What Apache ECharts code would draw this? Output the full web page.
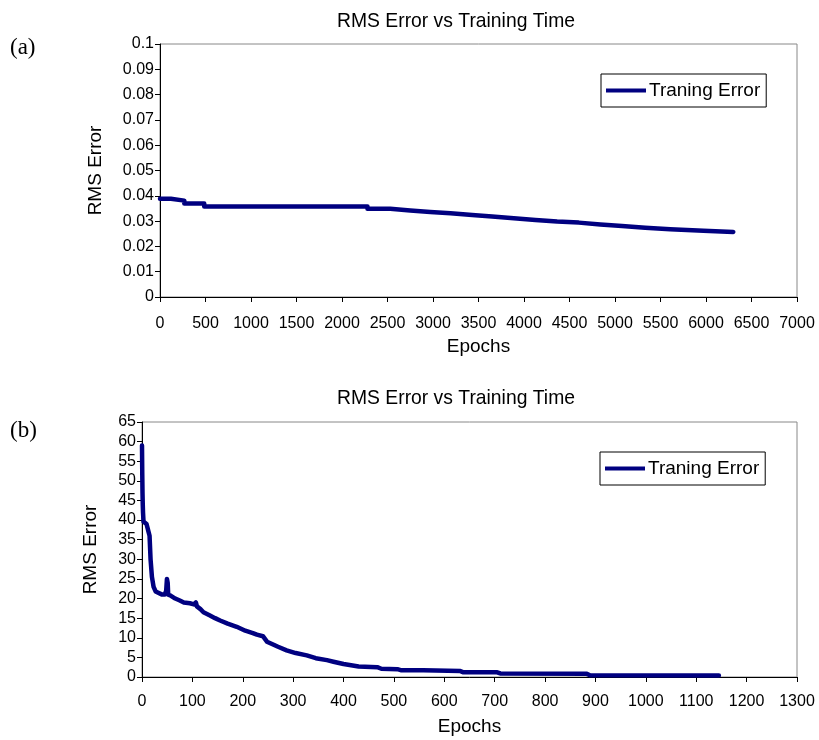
<!DOCTYPE html>
<html>
<head>
<meta charset="utf-8">
<script src="https://cdn.jsdelivr.net/npm/echarts@6/dist/echarts.min.js"></script>
<style>
html,body{margin:0;padding:0;background:#fff;}
#chart{width:819px;height:740px;}
</style>
</head>
<body>
<div id="chart"></div>
<script>
// ---- Data (a) ----
var epochsA = [0, 120, 267, 486, 2280, 2530, 2750, 2970, 3193, 3431, 3650, 3888, 4126, 4364, 4602, 4839, 5077, 5332, 5607, 5972, 6300];
var errorA  = [0.0388, 0.0381, 0.0370, 0.0358, 0.0349, 0.0342, 0.0336, 0.0331, 0.0324, 0.0318, 0.0311, 0.0304, 0.0298, 0.0294, 0.0287, 0.0281, 0.0274, 0.0268, 0.0262, 0.0257, 0.0257];

// ---- Data (b) ----
var epochsB = [0, 0.5, 1, 1.5, 2, 3, 6, 9, 11, 13, 15, 17, 19.7, 23, 27, 30, 40, 45, 48, 49.5, 51, 52, 56, 66, 75, 83, 95, 103, 107, 109, 116, 122, 133, 145, 155, 170, 188, 205, 220, 228, 240, 248, 258, 270, 287, 305, 327, 345, 367, 380, 400, 430, 467, 475, 507, 515, 558, 632, 638, 705, 711, 883, 889, 1145];
var errorB  = [59, 52, 47, 44, 42, 39.6, 39.3, 39, 38, 37, 36, 30, 25.5, 23, 21.8, 21.3, 21, 21, 22, 25, 24, 21, 20.8, 20, 19.5, 19, 18.8, 18.5, 19, 18, 17.3, 16.5, 15.8, 15, 14.4, 13.6, 12.8, 11.8, 11.2, 10.8, 10.4, 9.0, 8.4, 7.7, 6.8, 6.1, 5.5, 4.8, 4.3, 3.9, 3.3, 2.7, 2.5, 2.1, 2.0, 1.7, 1.7, 1.5, 1.2, 1.2, 0.9, 0.8, 0.45, 0.4];

var titleText = 'RMS Error vs Training Time';
var seriesName = 'Traning Error';
var xName = 'Epochs';
var yName = 'RMS Error';
var panelLabels = ['(a)', '(b)'];

function pairs(xs, ys){ return xs.map(function(x,i){ return [x, ys[i]]; }); }

var lineColor = '#000080';
var axisFont = 'Liberation Sans, Arial, sans-serif';

function xAx(idx, max, interval, margin){
  return {
    type:'value', gridIndex: idx, min:0, max:max, interval:interval,
    name:xName, nameLocation:'middle', nameGap:40,
    nameTextStyle:{fontFamily:axisFont, fontSize:19, color:'#000'},
    axisLine:{show:true, lineStyle:{color:'#000', width:1}},
    axisTick:{show:true, inside:false, length:5, lineStyle:{color:'#000'}},
    axisLabel:{margin:margin, fontFamily:axisFont, fontSize:16, color:'#000',
      formatter:function(v){ return String(v); }},
    splitLine:{show:false}
  };
}
function yAx(idx, max, interval, gap){
  return {
    type:'value', gridIndex: idx, min:0, max:max, interval:interval,
    name:yName, nameLocation:'middle', nameGap:gap, nameRotate:90,
    nameTextStyle:{fontFamily:axisFont, fontSize:19, color:'#000'},
    axisLine:{show:true, lineStyle:{color:'#000', width:1}},
    axisTick:{show:true, inside:false, length:5, lineStyle:{color:'#000'}},
    axisLabel:{margin:6, fontFamily:axisFont, fontSize:16, color:'#000'},
    splitLine:{show:false}
  };
}
function legend(name, left, top){
  return {
    data:[{name: name}],
    left:left, top:top, orient:'vertical',
    borderColor:'#000', borderWidth:1, padding:[7,6,7,5],
    icon:'rect', itemWidth:40, itemHeight:4, itemGap:4,
    textStyle:{fontFamily:axisFont, fontSize:19, color:'#000', padding:[0,0,0,-2]},
    formatter:function(){ return seriesName; },
    selectedMode:false
  };
}
function titleGraphic(y){
  return {type:'text', x:456, y:y, scaleX:0.92, z:10,
    style:{text:titleText, font:'21px "Liberation Sans", Arial, sans-serif', fill:'#000', textAlign:'center', textVerticalAlign:'middle'}};
}
function panelGraphic(t, y){
  return {type:'text', x:10, y:y, z:10,
    style:{text:t, font:'23px "Liberation Serif", "Times New Roman", serif', fill:'#000', textAlign:'left', textVerticalAlign:'middle'}};
}

var chart = echarts.init(document.getElementById('chart'), null, {renderer:'canvas'});
chart.setOption({
  animation:false,
  backgroundColor:'#fff',
  graphic:[ titleGraphic(21), titleGraphic(398), panelGraphic(panelLabels[0], 48), panelGraphic(panelLabels[1], 431) ],
  legend:[ legend(seriesName, 601, 74), legend(seriesName + ' ', 600, 452) ],
  grid:[
    {left:160, right:22, top:44, height:253, show:true, borderColor:'#888', borderWidth:1, backgroundColor:'#fff'},
    {left:142, right:22, top:422, height:255, show:true, borderColor:'#888', borderWidth:1, backgroundColor:'#fff'}
  ],
  xAxis:[ xAx(0, 7000, 500, 19), xAx(1, 1300, 100, 17) ],
  yAxis:[ yAx(0, 0.1, 0.01, 55), yAx(1, 65, 5, 42) ],
  series:[
    {name:seriesName, type:'line', xAxisIndex:0, yAxisIndex:0, data:pairs(epochsA, errorA), step:'end',
     showSymbol:false, symbol:'none', lineStyle:{color:lineColor, width:4.5, cap:'round', join:'round'}, itemStyle:{color:lineColor}},
    {name:seriesName + ' ', type:'line', xAxisIndex:1, yAxisIndex:1, data:pairs(epochsB, errorB),
     showSymbol:false, symbol:'none', lineStyle:{color:lineColor, width:4.5, cap:'round', join:'round'}, itemStyle:{color:lineColor}}
  ]
});
</script>
</body>
</html>
